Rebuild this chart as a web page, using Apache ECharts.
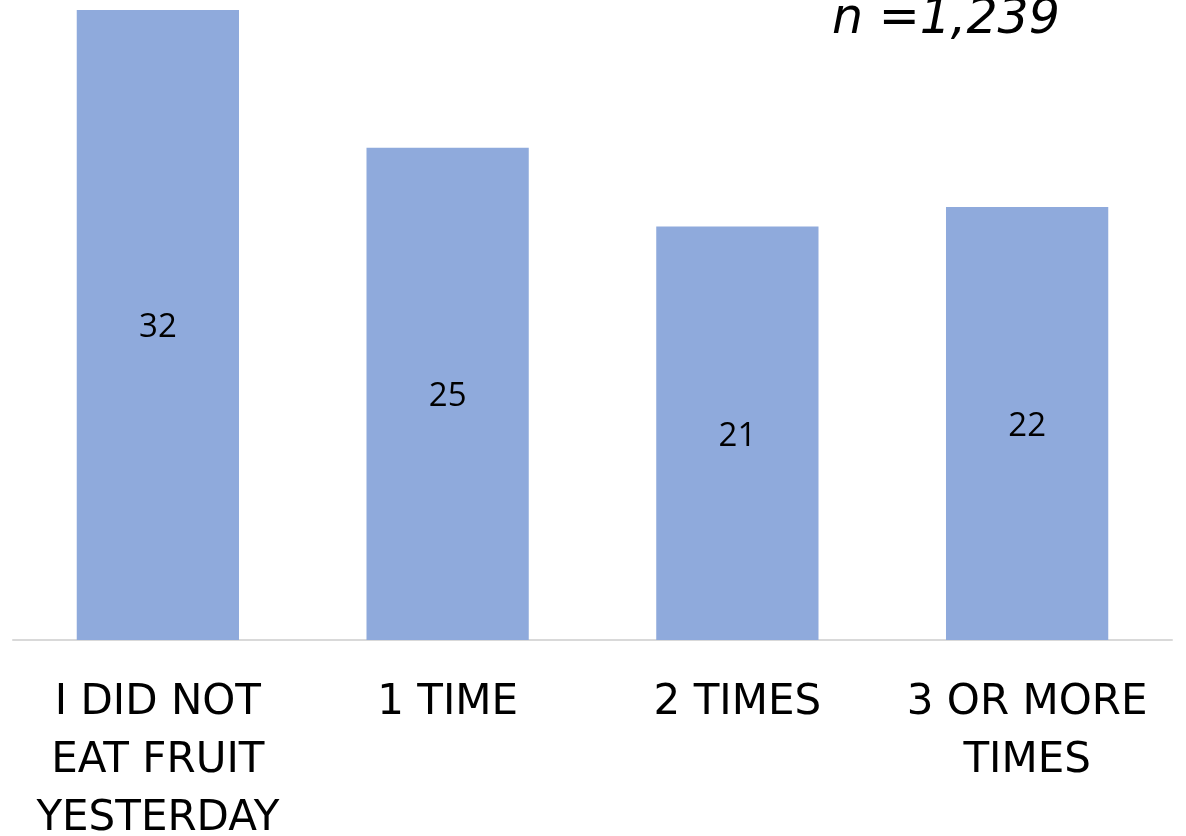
<!DOCTYPE html>
<html>
<head>
<meta charset="utf-8">
<script src="https://cdn.jsdelivr.net/npm/echarts@6/dist/echarts.min.js"></script>
<style>
html,body{margin:0;padding:0;background:#fff;}
#chart{width:1186px;height:836px;}
</style>
</head>
<body>
<div id="chart"></div>
<script>
const categories = ["I DID NOT\nEAT FRUIT\nYESTERDAY", "1 TIME", "2 TIMES", "3 OR MORE\nTIMES"];
const values = [32, 25, 21, 22];
const sampleNote = "n =1,239";

const chart = echarts.init(document.getElementById('chart'));
chart.setOption({
  animation: false,
  backgroundColor: '#ffffff',
  grid: { left: 13, right: 14, top: 10, bottom: 196, containLabel: false, outerBoundsMode: 'none' },
  xAxis: {
    type: 'category',
    data: categories,
    axisLine: { show: true, lineStyle: { color: '#d9d9d9', width: 2 } },
    axisTick: { show: false },
    axisLabel: {
      interval: 0,
      margin: 34,
      color: '#000000',
      fontFamily: 'DejaVu Sans',
      fontSize: 42,
      lineHeight: 58
    }
  },
  yAxis: {
    type: 'value',
    min: 0,
    max: 32,
    show: false,
    splitLine: { show: false }
  },
  series: [{
    type: 'bar',
    data: values,
    barWidth: '56%',
    itemStyle: { color: '#8faadc' },
    label: {
      show: true,
      position: 'inside',
      offset: [0, 3],
      color: '#000000',
      fontFamily: 'Open Sans',
      fontSize: 33
    }
  }],
  graphic: [{
    type: 'text',
    left: 832,
    top: -4,
    style: {
      text: sampleNote,
      fill: '#000000',
      font: 'italic 49px "DejaVu Sans"'
    }
  }]
});
</script>
</body>
</html>
